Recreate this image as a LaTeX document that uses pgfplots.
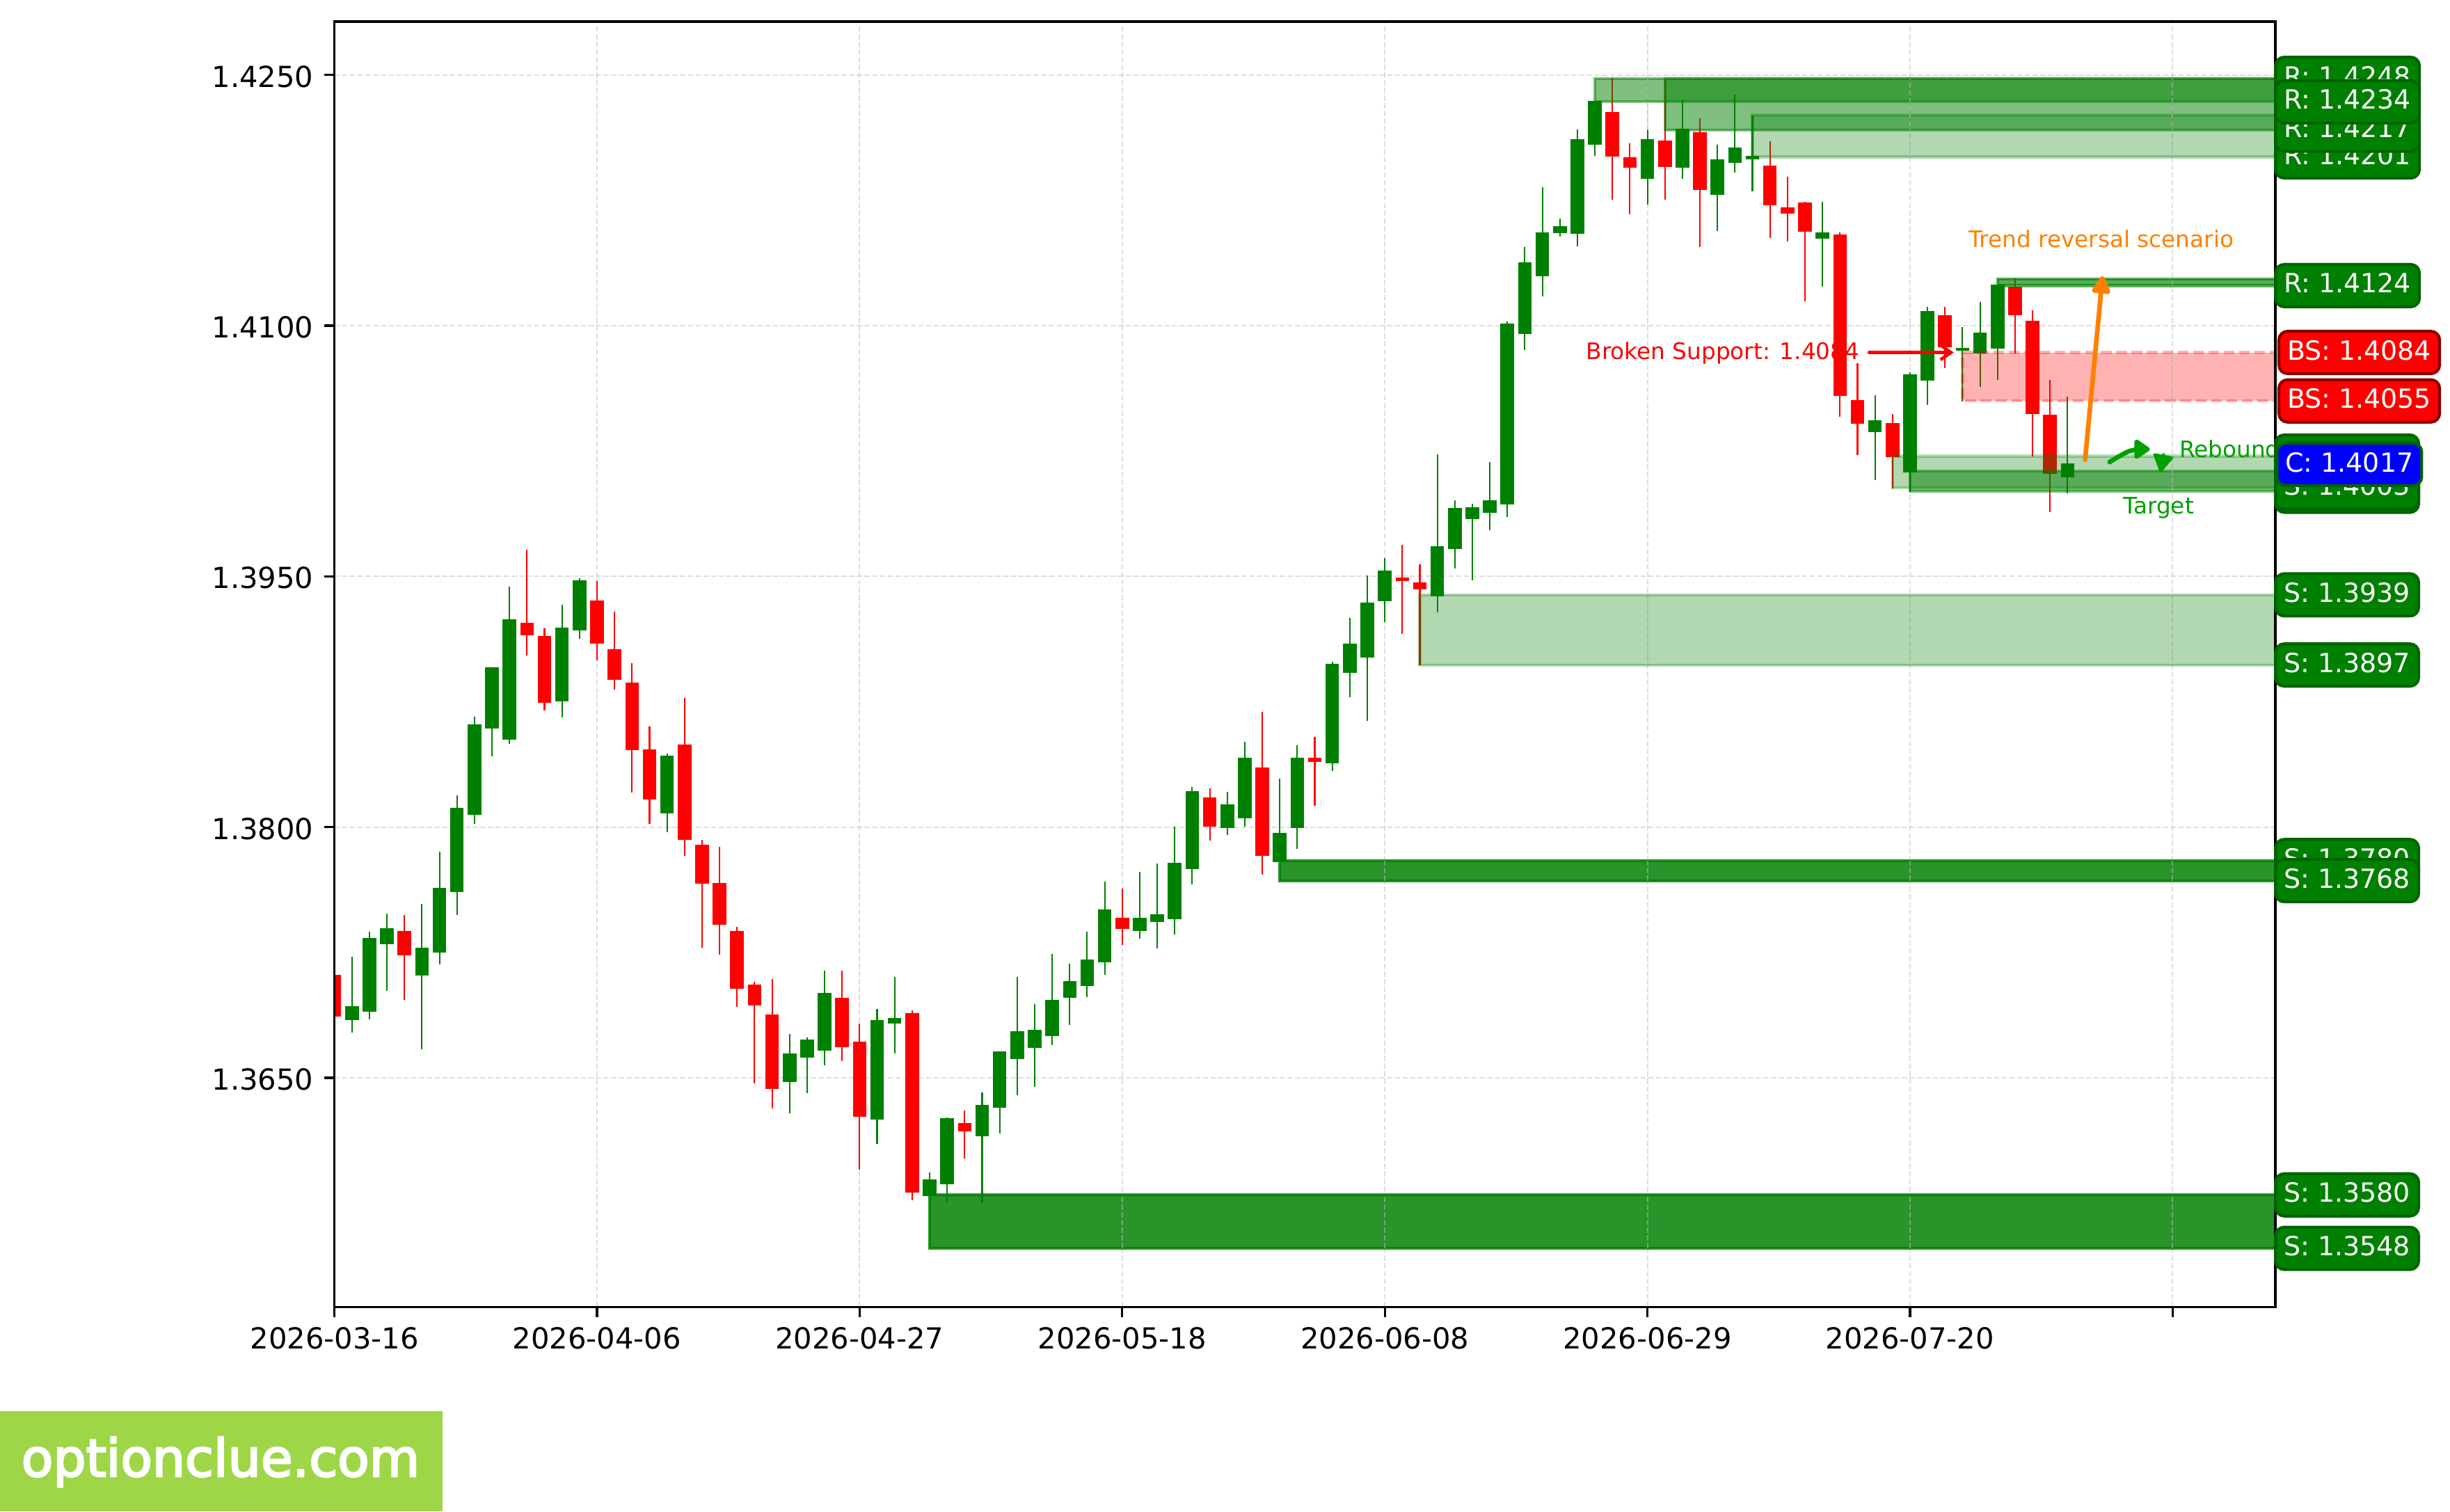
\documentclass[border=0pt]{standalone}
\usepackage{fontspec}
\setmainfont{DejaVu Sans}
\newfontfamily\wmfont[FakeBold=3.5]{DejaVu Sans}
\usepackage{pgfplots}
\usepackage{pgfplotstable}
\pgfplotsset{compat=1.18}
\usetikzlibrary{arrows.meta}
\definecolor{cgreen}{HTML}{008000}
\definecolor{cred}{HTML}{FF0000}
\definecolor{cdgreen}{HTML}{006400}
\definecolor{cdred}{HTML}{8B0000}
\definecolor{corange}{HTML}{FF8000}
\definecolor{crebound}{HTML}{00A000}
\definecolor{cwm}{HTML}{9ED647}
\pgfplotstableread{
i top bot hi lo
1 1.36930 1.36845 1.37225 1.36769
2 1.37336 1.36895 1.37374 1.36848
3 1.37394 1.37301 1.37482 1.37020
5 1.37277 1.37114 1.37540 1.36670
6 1.37637 1.37251 1.37853 1.37178
7 1.38116 1.37613 1.38192 1.37476
8 1.38615 1.38072 1.38662 1.38019
9 1.38957 1.38592 1.38957 1.38425
10 1.39243 1.38522 1.39439 1.38498
13 1.39193 1.38752 1.39331 1.38656
14 1.39477 1.39179 1.39488 1.39126
19 1.38428 1.38081 1.38440 1.37970
26 1.36647 1.36474 1.36763 1.36287
27 1.36728 1.36623 1.36740 1.36407
28 1.37009 1.36664 1.37140 1.36576
31 1.36845 1.36252 1.36912 1.36106
32 1.36857 1.36823 1.37104 1.36647
34 1.35894 1.35793 1.35933 1.35793
35 1.36258 1.35864 1.36262 1.35755
37 1.36337 1.36151 1.36411 1.35755
38 1.36658 1.36322 1.36658 1.36169
39 1.36779 1.36613 1.37104 1.36397
40 1.36787 1.36680 1.36940 1.36448
41 1.36966 1.36750 1.37241 1.36698
42 1.37077 1.36981 1.37182 1.36817
43 1.37207 1.37051 1.37374 1.36985
44 1.37507 1.37192 1.37673 1.37118
46 1.37457 1.37380 1.37731 1.37334
47 1.37477 1.37431 1.37782 1.37275
48 1.37786 1.37451 1.38002 1.37356
49 1.38215 1.37751 1.38242 1.37656
51 1.38136 1.37993 1.38211 1.37955
52 1.38416 1.38053 1.38512 1.38005
54 1.37967 1.37792 1.38292 1.37792
55 1.38416 1.37993 1.38490 1.37868
57 1.38978 1.38380 1.38990 1.38335
58 1.39096 1.38923 1.39254 1.38777
59 1.39344 1.39014 1.39505 1.38634
60 1.39536 1.39352 1.39612 1.39227
63 1.39679 1.39380 1.40232 1.39285
64 1.39909 1.39665 1.39955 1.39548
65 1.39916 1.39844 1.39933 1.39476
66 1.39957 1.39880 1.40184 1.39777
67 1.41015 1.39931 1.41025 1.39856
68 1.41379 1.40950 1.41473 1.40856
69 1.41557 1.41295 1.41828 1.41174
70 1.41596 1.41556 1.41641 1.41532
71 1.42117 1.41551 1.42174 1.41476
72 1.42346 1.42081 1.42346 1.42016
75 1.42117 1.41880 1.42174 1.41726
77 1.42180 1.41944 1.42355 1.41877
79 1.41996 1.41782 1.42083 1.41568
80 1.42066 1.41973 1.42383 1.41918
81 1.42016 1.41994 1.42258 1.41806
85 1.41558 1.41523 1.41741 1.41234
88 1.40436 1.40364 1.40583 1.40075
90 1.40708 1.40122 1.40723 1.40004
91 1.41087 1.40672 1.41112 1.40525
93 1.40866 1.40851 1.40991 1.40546
94 1.40957 1.40833 1.41141 1.40635
95 1.41246 1.40864 1.41246 1.40676
99 1.40177 1.40092 1.40574 1.39997
}\greendata
\pgfplotstableread{
i top bot hi lo
0 1.37117 1.36866 1.37117 1.36866
4 1.37380 1.37231 1.37473 1.36968
11 1.39225 1.39150 1.39661 1.39027
12 1.39144 1.38744 1.39190 1.38697
15 1.39357 1.39100 1.39474 1.38998
16 1.39065 1.38881 1.39290 1.38825
17 1.38863 1.38463 1.38980 1.38206
18 1.38466 1.38165 1.38603 1.38019
20 1.38495 1.37923 1.38773 1.37827
21 1.37894 1.37663 1.37923 1.37277
22 1.37666 1.37415 1.37882 1.37237
23 1.37380 1.37032 1.37403 1.36927
24 1.37058 1.36933 1.37076 1.36468
25 1.36880 1.36433 1.37090 1.36319
29 1.36980 1.36682 1.37140 1.36600
30 1.36717 1.36267 1.36825 1.35949
33 1.36888 1.35814 1.36904 1.35769
36 1.36230 1.36181 1.36304 1.36018
45 1.37457 1.37392 1.37633 1.37297
50 1.38179 1.38002 1.38232 1.37919
53 1.38356 1.37830 1.38691 1.37718
56 1.38416 1.38392 1.38541 1.38127
61 1.39495 1.39474 1.39691 1.39155
62 1.39466 1.39423 1.39574 1.38969
73 1.42279 1.42014 1.42481 1.41756
74 1.42009 1.41944 1.42092 1.41666
76 1.42107 1.41951 1.42476 1.41756
78 1.42158 1.41813 1.42241 1.41469
82 1.41958 1.41722 1.42104 1.41527
83 1.41707 1.41672 1.41891 1.41506
84 1.41737 1.41564 1.41741 1.41147
86 1.41545 1.40579 1.41560 1.40455
87 1.40557 1.40414 1.40775 1.40226
89 1.40416 1.40213 1.40473 1.40025
92 1.41065 1.40870 1.41112 1.40747
96 1.41235 1.41063 1.41283 1.40834
97 1.41028 1.40471 1.41091 1.40220
98 1.40466 1.40114 1.40674 1.39883
}\reddata
\newcommand{\wicks}[2]{\addplot[draw=none,no marks,forget plot,
  error bars/.cd,y dir=both,y explicit,error mark=none,
  error bar style={color=#1,line width=0.5bp,solid}]
  table[x=i,y=top,y error plus expr=\thisrow{hi}-\thisrow{top},y error minus expr=\thisrow{top}-\thisrow{lo}] {#2};}
\newcommand{\bodies}[2]{\addplot[draw=none,no marks,forget plot,
  error bars/.cd,y dir=plus,y explicit,error mark=none,
  error bar style={color=#1,line width=4.7bp,solid}]
  table[x=i,y=bot,y error plus expr=\thisrow{top}-\thisrow{bot}] {#2};}
\newcommand{\zone}[6][]{\addplot[forget plot,fill=#5,draw=#5,fill opacity=#6,draw opacity=#6,line width=1bp,#1]
  coordinates {(#2,#3)(110.87,#3)(110.87,#4)(#2,#4)} --cycle;}
\newcommand{\gridseg}[3]{\addplot[forget plot,color=lightgray,opacity=0.5,line width=0.5bp,dash pattern=on 1.85bp off 0.8bp]
  coordinates {(#1,#2)(#1,#3)};}
\newcommand{\lab}[6][110.87]{\node[anchor=west,xshift=-0.45bp,fill=#5,draw=#6,line width=1bp,rounded corners=3bp,
  text=white,inner xsep=2.9bp,inner ysep=2.88bp,text height=6.96bp,text depth=1.92bp,
  font=\fontsize{9.1bp}{11bp}\selectfont] at (axis cs:#2,#3) {#4};}
\begin{document}
\begin{tikzpicture}
\fill[white] (0,0) rectangle (845.04bp,521.28bp);
\fill[cwm] (0,0) rectangle (152.64bp,34.56bp);
\node[anchor=base west,inner sep=0pt,text=white,font=\wmfont\fontsize{17.85bp}{20bp}\selectfont] at (7.2bp,12.07bp) {optionclue.com};
\begin{axis}[
  at={(115.34bp,70.46bp)},anchor=south west,
  scale only axis,width=669.46bp,height=443.38bp,
  xmin=0,xmax=110.87,ymin=1.35129,ymax=1.42820,
  clip mode=individual,
  scaled ticks=false,
  xtick={0,15,30,45,60,75,90,105},
  xticklabels={2026-03-16,2026-04-06,2026-04-27,2026-05-18,2026-06-08,2026-06-29,2026-07-20,{}},
  ytick={1.365,1.38,1.395,1.41,1.425},
  yticklabels={1.3650,1.3800,1.3950,1.4100,1.4250},
  xtick pos=bottom,ytick pos=left,
  tick align=outside,major tick length=3.5bp,
  tick style={black,line width=0.8bp},
  axis line style={black,line width=0.8bp},
  ticklabel style={font=\fontsize{10bp}{12bp}\selectfont,text=black},
  yticklabel style={yshift=-0.5bp,xshift=-0.2bp},
  grid=major,
  major grid style={color=lightgray,opacity=0.5,line width=0.5bp,dash pattern=on 1.85bp off 0.8bp},
]
\wicks{cgreen}{\greendata}
\wicks{cred}{\reddata}
\bodies{cgreen}{\greendata}
\bodies{cred}{\reddata}
\zone{34}{1.3580}{1.3548}{cgreen}{0.84}
\zone{54}{1.3780}{1.3768}{cgreen}{0.84}
\zone{62}{1.3939}{1.3897}{cgreen}{0.3}
\zone{72}{1.4248}{1.4234}{cgreen}{0.5}
\zone{76}{1.4248}{1.4217}{cgreen}{0.5}
\zone{81}{1.4226}{1.4201}{cgreen}{0.3}
\zone{95}{1.4128}{1.4124}{cgreen}{0.65}
\zone[dash pattern=on 3.7bp off 1.6bp]{93}{1.4084}{1.4055}{cred}{0.3}
\zone{89}{1.4022}{1.4003}{cgreen}{0.3}
\zone{90}{1.4013}{1.4001}{cgreen}{0.5}
\gridseg{45}{1.3548}{1.3580}
\gridseg{60}{1.3548}{1.3580}
\gridseg{75}{1.3548}{1.3580}
\gridseg{90}{1.3548}{1.3580}
\gridseg{105}{1.3548}{1.3580}
\gridseg{60}{1.3768}{1.3780}
\gridseg{75}{1.3768}{1.3780}
\gridseg{90}{1.3768}{1.3780}
\gridseg{105}{1.3768}{1.3780}
\gridseg{75}{1.3897}{1.3939}
\gridseg{90}{1.3897}{1.3939}
\gridseg{105}{1.3897}{1.3939}
\gridseg{105}{1.4001}{1.4022}
\gridseg{105}{1.4055}{1.4084}
\gridseg{105}{1.4124}{1.4128}
\gridseg{75}{1.4217}{1.4248}
\gridseg{90}{1.4201}{1.4248}
\gridseg{105}{1.4201}{1.4248}
% annotations
\node[anchor=east,inner sep=0pt,text=cred,font=\fontsize{7.85bp}{10bp}\selectfont] at (axis cs:87.15,1.40835) {Broken Support: 1.4084};
\addplot[forget plot,color=cred,line width=1.1bp,line cap=round,-{Straight Barb[length=3.6bp,width=5bp,line width=1.1bp]}] coordinates {(87.66,1.4084)(92.5,1.4084)};
\node[inner sep=0pt,text=corange,font=\fontsize{7.85bp}{10bp}\selectfont] at (axis cs:100.93,1.41521) {Trend reversal scenario};
\addplot[forget plot,color=corange,line width=1.6bp,line cap=round,-{Triangle[length=7bp,width=7bp,round]}] coordinates {(100,1.40198)(101,1.41297)};
\addplot[forget plot,color=crebound,line width=1.6bp,line cap=round,smooth,-{Triangle[length=6bp,width=7.5bp,round]}] coordinates {(101.4,1.40184)(102.56,1.40251)(103.7,1.40261)};
\addplot[forget plot,color=crebound,line width=0.8bp,-{Triangle[length=6.6bp,width=7.4bp,round]}] coordinates {(104.5,1.40237)(104.3,1.40122)};
\node[anchor=west,inner sep=0pt,text=crebound,font=\fontsize{7.85bp}{10bp}\selectfont] at (axis cs:105.36,1.40264) {Rebound};
\node[inner sep=0pt,text=crebound,font=\fontsize{7.85bp}{10bp}\selectfont] at (axis cs:104.2,1.39912) {Target};
\draw[black,line width=0.8bp] (rel axis cs:0,0) rectangle (rel axis cs:1,1);
% level labels
\lab{110.87}{1.4248}{R: 1.4248}{cgreen}{cdgreen}
\lab{110.87}{1.4201}{R: 1.4201}{cgreen}{cdgreen}
\lab{110.87}{1.4217}{R: 1.4217}{cgreen}{cdgreen}
\lab{110.87}{1.4234}{R: 1.4234}{cgreen}{cdgreen}
\lab{110.87}{1.4124}{R: 1.4124}{cgreen}{cdgreen}
\lab{111.06}{1.4084}{BS: 1.4084}{cred}{cdred}
\lab{111.06}{1.4055}{BS: 1.4055}{cred}{cdred}
\lab{110.87}{1.4022}{S: 1.4022}{cgreen}{cdgreen}
\lab{110.87}{1.4013}{S: 1.4013}{cgreen}{cdgreen}
\lab{110.87}{1.4001}{S: 1.4001}{cgreen}{cdgreen}
\lab{110.87}{1.4003}{S: 1.4003}{cgreen}{cdgreen}
\lab{110.95}{1.4017}{C: 1.4017}{blue}{cdgreen}
\lab{110.87}{1.3939}{S: 1.3939}{cgreen}{cdgreen}
\lab{110.87}{1.3897}{S: 1.3897}{cgreen}{cdgreen}
\lab{110.87}{1.3780}{S: 1.3780}{cgreen}{cdgreen}
\lab{110.87}{1.3768}{S: 1.3768}{cgreen}{cdgreen}
\lab{110.87}{1.3580}{S: 1.3580}{cgreen}{cdgreen}
\lab{110.87}{1.3548}{S: 1.3548}{cgreen}{cdgreen}
\end{axis}
\pgfresetboundingbox
\useasboundingbox (0,0) rectangle (845.04bp,521.28bp);
\end{tikzpicture}
\end{document}
